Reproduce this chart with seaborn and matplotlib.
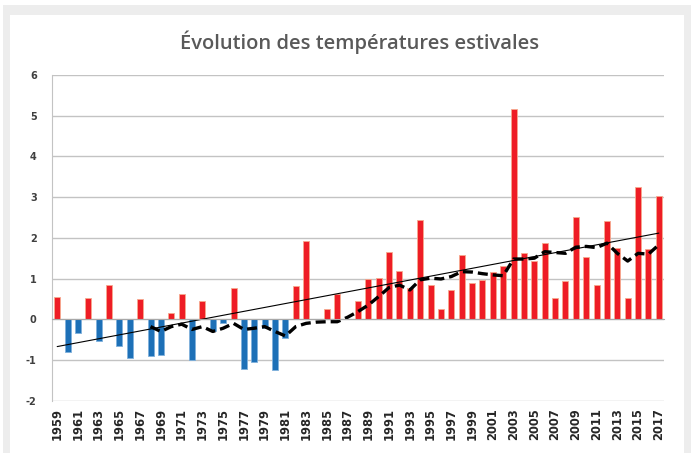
import numpy as np
import pandas as pd
import matplotlib
matplotlib.use('Agg')
import matplotlib.pyplot as plt
import seaborn as sns
from matplotlib.patches import Rectangle

# donnees
annees = np.arange(1959, 2018)
ecart = [0.54, -0.81, -0.34, 0.52, -0.53, 0.84, -0.65, -0.96, 0.49, -0.90,
         -0.88, 0.15, 0.61, -1.01, 0.44, -0.28, -0.10, 0.78, -1.23, -1.05,
         -0.21, -1.25, -0.47, 0.82, 1.92, 0.0, 0.25, 0.62, 0.0, 0.44,
         0.99, 1.01, 1.66, 1.19, 0.78, 2.43, 0.85, 0.25, 0.72, 1.58,
         0.89, 0.97, 1.17, 1.30, 5.16, 1.64, 1.43, 1.87, 0.52, 0.95,
         2.51, 1.52, 0.84, 2.41, 1.74, 0.52, 3.25, 1.73, 3.02]
# moyenne glissante (courbe pointillee), a partir de 1968
moyenne = [np.nan] * 9 + [
    -0.18, -0.30, -0.18, -0.12, -0.25, -0.18, -0.30, -0.22, -0.10, -0.25,
    -0.22, -0.18, -0.30, -0.41, -0.18, -0.10, -0.07, -0.06, -0.06, 0.05,
    0.19, 0.35, 0.56, 0.78, 0.84, 0.72, 0.97, 1.01, 0.99, 1.05,
    1.17, 1.16, 1.12, 1.09, 1.07, 1.48, 1.48, 1.50, 1.66, 1.64,
    1.62, 1.77, 1.79, 1.76, 1.87, 1.62, 1.43, 1.62, 1.60, 1.83]

df = pd.DataFrame({'annee': annees.astype(str), 'ecart': ecart,
                   'moyenne': moyenne, 'pos': np.arange(len(annees))})
df['signe'] = np.where(df['ecart'] >= 0, 'chaud', 'froid')

sns.set_style('white')
plt.rcParams['axes.unicode_minus'] = False

fig = plt.figure(figsize=(6.91, 4.53), dpi=100)
# cadre avec ombre
fig.patches.append(Rectangle((3 / 691, 0), 688 / 691, 448 / 453, transform=fig.transFigure,
                             facecolor='#ededed', edgecolor='none', zorder=-3))
fig.patches.append(Rectangle((10 / 691, 0), 674 / 691, 438 / 453, transform=fig.transFigure,
                             facecolor='white', edgecolor='none', zorder=-2))

ax = fig.add_axes([52 / 691, 52.3 / 453, 612 / 691, 325.7 / 453])
ax.set_facecolor('none')

sns.barplot(data=df, x='annee', y='ecart', hue='signe', dodge=False, legend=False,
            palette={'chaud': '#ee1d25', 'froid': '#1d70b7'}, saturation=1,
            width=0.58, ax=ax, zorder=2)
for p in ax.patches:
    if p.get_height() > 0:
        p.set_edgecolor('#f6a98e')
    else:
        p.set_edgecolor('#7fb0dc')
    p.set_linewidth(0.6)

# tendance lineaire
sns.regplot(x=df['pos'], y=df['ecart'], scatter=False, ci=None, color='black',
            line_kws={'lw': 0.8, 'zorder': 3}, ax=ax)
# moyenne glissante
sns.lineplot(x=df['pos'], y=df['moyenne'], color='black', lw=2.4,
             linestyle=(0, (3, 1.5)), ax=ax, zorder=4)

ax.set_xlim(-0.5, 58.5)
ax.set_ylim(-2, 6)
ax.set_xlabel('')
ax.set_ylabel('')
ax.set_yticks(range(-2, 7))
ax.set_yticklabels([str(v) for v in range(-2, 7)], fontweight='bold')
ax.yaxis.grid(True, color='#c3c3c3', lw=1)
ax.set_axisbelow(True)
for s in ['top', 'right']:
    ax.spines[s].set_visible(False)
ax.spines['left'].set_color('#c3c3c3')
ax.spines['bottom'].set_position(('data', 0))
ax.spines['bottom'].set_color('#a8a8a8')
ax.spines['bottom'].set_zorder(5)
ax.set_xticks(np.arange(-0.5, 59, 1))
ax.tick_params(axis='x', direction='out', length=4, color='#a8a8a8', labelbottom=False)
ax.tick_params(axis='y', direction='out', length=4, color='#c3c3c3', labelsize=7,
               labelcolor='#404040', pad=7)

# etiquettes des annees sous le graphique
sec = ax.secondary_xaxis('bottom')
sec.set_xticks(df['pos'][::2], labels=df['annee'][::2])
for t in sec.get_xticklabels():
    t.set_rotation(90)
    t.set_fontsize(8.3)
    t.set_fontweight('bold')
    t.set_family('DejaVu Sans')
    t.set_color('#262626')
sec.tick_params(length=0, pad=5.5)
sec.spines['bottom'].set_visible(False)

fig.text(0.52, 0.907, 'Évolution des températures estivales', ha='center', va='center',
         fontsize=14.5, color='#595959', family='Open Sans', weight='semibold')

fig.savefig('out.png', dpi=100)
